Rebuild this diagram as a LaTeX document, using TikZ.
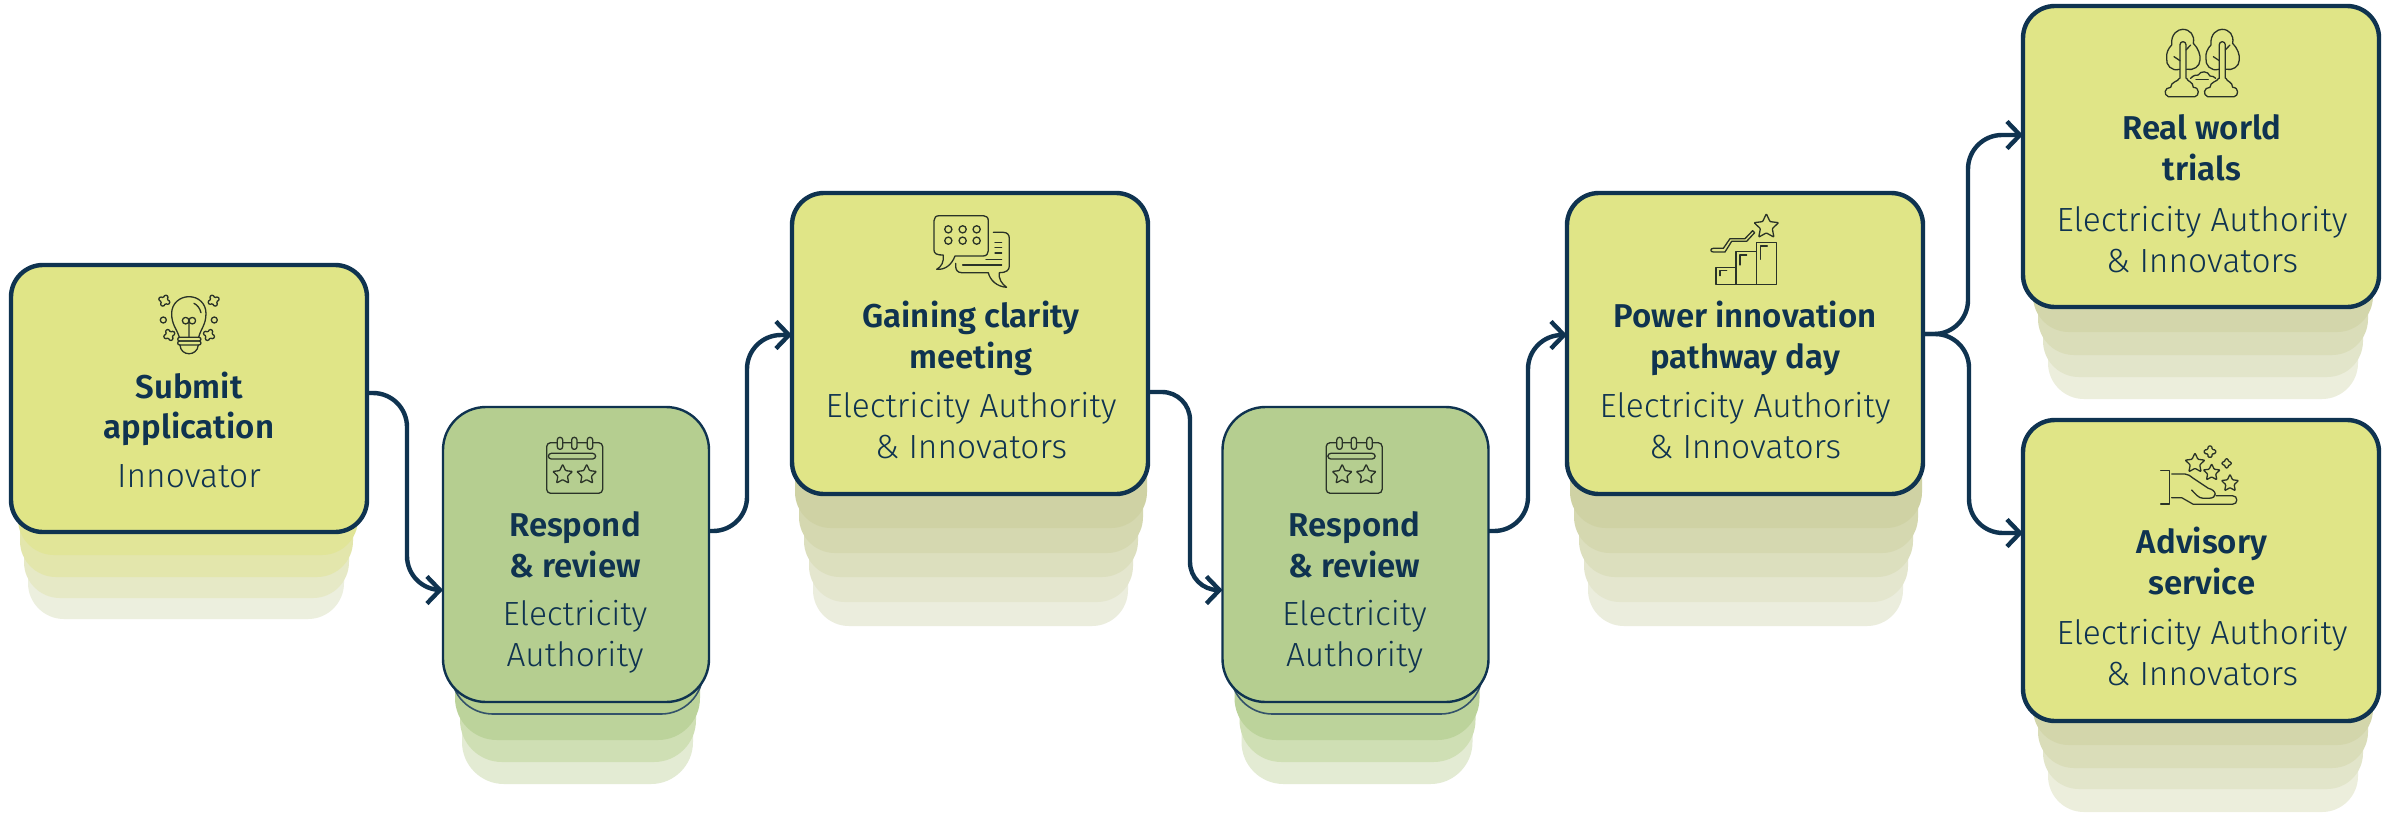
\documentclass[tikz,border=0pt]{standalone}
\usepackage{fontspec}
\usetikzlibrary{arrows.meta}
\newfontfamily\titlefont{Fira Sans SemiBold}
\newfontfamily\subfont{Fira Sans Light}
\definecolor{navy}{HTML}{0F3350}
\definecolor{ybox}{HTML}{E0E587}
\definecolor{gbox}{HTML}{B5CE90}
\definecolor{iconink}{HTML}{2A3328}
\tikzset{
 yboxst/.style={draw=navy,line width=4.4pt,fill=ybox,rounded corners=32pt,minimum width=356pt,minimum height=#1,inner sep=0pt,outer sep=0pt},
 gboxst/.style={draw=navy,line width=2.4pt,fill=gbox,rounded corners=43pt,minimum width=266pt,minimum height=295pt,inner sep=0pt,outer sep=0pt},
 titlest/.style={anchor=base,inner sep=0pt,text=navy,font=\titlefont\fontsize{33}{40}\selectfont},
 subst/.style={anchor=base,inner sep=0pt,text=navy,font=\subfont\fontsize{33.5}{40}\selectfont},
 link/.style={draw=navy,line width=4.4pt,rounded corners=#1,-{Straight Barb[length=13pt,width=27pt]}},
 link/.default=34pt,
 ic/.style={draw=iconink,line width=1.3pt,line join=round,line cap=round},
 sparkpic/.pic={\draw[ic,rounded corners=1.2pt] (-6,-17)--(6,-17)--(6,-6)--(17,-6)--(17,6)--(6,6)--(6,17)--(-6,17)--(-6,6)--(-17,6)--(-17,-6)--(-6,-6)--cycle;},
 starpic/.pic={\draw[ic,rounded corners=.8pt] (-90:31)--(-54:15)--(-18:31)--(18:15)--(54:31)--(90:15)--(126:31)--(162:15)--(198:31)--(234:15)--cycle;},
}
\newcommand\layerbox[5]{\definecolor{layerc}{HTML}{#5}\fill[layerc,rounded corners=#4] (#1,#3-150) rectangle (#2,#3);}
% stack under the five-layer boxes, in the coordinates of box 3
\newcommand\fivestack[1]{\begin{scope}[xshift=#1]
 \foreach \l/\r/\b/\c in {813/1128/626/EBEDDD,809/1133/602/E4E6CE,804/1138/577/DCDFBE,799/1143/553/D5D8B0,795/1147/528/CFD2A4}
  {\layerbox{\l}{\r}{\b}{36pt}{\c}}
\end{scope}}
\newcommand\calicon{%
 \draw[ic,rounded corners=4pt] (380,128) rectangle (548,280);
 \draw[ic,rounded corners=3pt] (385,160) rectangle (527,177);
 \foreach \x in {420,463,510}{\filldraw[ic,fill=gbox,rounded corners=2.5pt] (\x-8,112) rectangle (\x+8,148);}
 \pic at (428,224) {starpic};
 \pic at (500,224) {starpic};
}
\newcommand\treeicon{%
 \draw[ic] (838,208) .. controls (815,215) and (797,195) .. (800,175) .. controls (798,160) and (805,145) .. (815,135) .. controls (812,100) and (835,88) .. (848,88) .. controls (870,88) and (885,105) .. (880,130) .. controls (895,145) and (902,165) .. (900,180) .. controls (900,200) and (880,212) .. (860,208);
 \draw[ic,rounded corners=3pt] (840,235)--(840,125)--(858,125)--(858,235);
 \draw[ic] (822,170)--(840,182) (858,150)--(872,135);
 \draw[ic] (838,235) .. controls (835,245) and (812,245) .. (812,262) .. controls (793,262) and (790,285) .. (805,290) -- (885,290) .. controls (898,288) and (900,262) .. (880,262) .. controls (880,245) and (862,245) .. (860,235);
}
\begin{document}
\begin{tikzpicture}[x=1pt,y=-1pt]
\useasboundingbox (0,0) rectangle (2392,812);
\fill[white] (0,0) rectangle (2392,812);
% stacks
\foreach \l/\r/\b/\c in {28/344/619/ECEFDE,24/349/598/E6E9C6,20/353/577/E3E6AC,18/358/555/E1E598}
 {\layerbox{\l}{\r}{\b}{36pt}{\c}}
\foreach \dx in {0,779.5}{\begin{scope}[xshift=\dx]
 \foreach \l/\r/\b/\c in {462/693/784/E3EBD3,460/696/762/CFDFB4,455/700/740/BCD39B}
  {\layerbox{\l}{\r}{\b}{42pt}{\c}}
 \filldraw[draw=navy!85,line width=1.6pt,fill=gbox,rounded corners=42pt] (451,560) rectangle (703,714);
\end{scope}}
\fivestack{0}
\fivestack{775}
\foreach \l/\r/\b/\c in {2048/2358/399/ECEEDC,2043/2363/377/E2E5CA,2038/2368/355/DADDB9,2033/2373/332/D3D6AB}
 {\layerbox{\l}{\r}{\b}{36pt}{\c}}
\foreach \l/\r/\b/\c in {2048/2358/812/ECEEDC,2043/2363/789/E2E5CA,2038/2368/768/DADDB9,2033/2373/745/D3D6AB}
 {\layerbox{\l}{\r}{\b}{36pt}{\c}}
% boxes
\node[yboxst=267pt] (b1) at (189,398.5) {};
\node[gboxst] (b2) at (576,554.5) {};
\node[yboxst=301pt] (b3) at (970,343.5) {};
\node[gboxst] (b4) at (1355.5,554.5) {};
\node[yboxst=301pt] (b5) at (1745,343.5) {};
\node[yboxst=301pt] (b6) at (2201,156.5) {};
\node[yboxst=301pt] (b7) at (2201,570.5) {};
% connectors
\draw[link] ([yshift=5.5pt]b1.east) -- (407,393) -- (407,590) -- ([yshift=-35.5pt]b2.west);
\draw[link] ([yshift=23.5pt]b2.east) -- (747,531) -- (747,335) -- ([yshift=8.5pt]b3.west);
\draw[link=28pt] ([yshift=-48.5pt]b3.east) -- (1190,392) -- (1190,590) -- ([yshift=-35.5pt]b4.west);
\draw[link] ([yshift=23.5pt]b4.east) -- (1528,531) -- (1528,335) -- ([yshift=8.5pt]b5.west);
\draw[link] ([yshift=9.5pt]b5.east) -- (1968,334) -- (1968,135) -- ([yshift=21.5pt]b6.west);
\draw[link] ([yshift=9.5pt]b5.east) -- (1969,334) -- (1969,533) -- ([yshift=37.5pt]b7.west);
% texts
\node[titlest] (t1a) at (189,398) {Submit};
\node[titlest] (t1b) at (189,438) {application};
\node[subst] (t1c) at (189,487) {Innovator};
\foreach \n/\cx in {2/575,4/1354.5}{
 \node[titlest] (t\n a) at (\cx,536) {Respond};
 \node[titlest] (t\n b) at (\cx,577) {\& review};
 \node[subst] (t\n c) at (\cx,625) {Electricity};
 \node[subst] (t\n d) at (\cx,666) {Authority};
}
\node[titlest] (t3a) at (971,327) {Gaining clarity};
\node[titlest] (t3b) at (971,368) {meeting};
\node[subst] (t3c) at (971,417) {Electricity Authority};
\node[subst] (t3d) at (971,458) {\& Innovators};
\node[titlest] (t5a) at (1745,327) {Power innovation};
\node[titlest] (t5b) at (1745,368) {pathway day};
\node[subst] (t5c) at (1745,417) {Electricity Authority};
\node[subst] (t5d) at (1745,458) {\& Innovators};
\node[titlest] (t6a) at (2202,139) {Real world};
\node[titlest] (t6b) at (2202,180) {trials};
\node[subst] (t6c) at (2202,231) {Electricity Authority};
\node[subst] (t6d) at (2202,272) {\& Innovators};
\node[titlest] (t7a) at (2202,553) {Advisory};
\node[titlest] (t7b) at (2202,594) {service};
\node[subst] (t7c) at (2202,644) {Electricity Authority};
\node[subst] (t7d) at (2202,685) {\& Innovators};
% bulb icon
\begin{scope}[shift={(0,250)},x=.3333pt,y=-.3333pt]
 \draw[ic] (538,262) .. controls (530,235) and (515,225) .. (515,190) .. controls (515,160) and (540,140) .. (567,140) .. controls (595,140) and (618,160) .. (618,190) .. controls (618,225) and (603,235) .. (596,262);
 \draw[ic,rounded corners=2pt] (533,262) rectangle (603,273);
 \draw[ic,rounded corners=2pt] (533,273) rectangle (603,285);
 \draw[ic] (540,285) .. controls (542,320) and (592,320) .. (595,285);
 \draw[ic] (557,212) circle (3.3pt) (577,212) circle (3.3pt) (567,222)--(567,262);
 \draw[ic] (582,160) .. controls (592,165) and (600,175) .. (603,188);
 \draw[ic] (490,210) circle (3pt) (643,210) circle (3pt);
 \pic[rotate=-25] at (493,152) {sparkpic};
 \pic[rotate=25] at (641,152) {sparkpic};
 \pic[rotate=25] at (508,255) {sparkpic};
 \pic[rotate=-25] at (627,255) {sparkpic};
\end{scope}
% calendar icons
\begin{scope}[shift={(420,400)},x=.3333pt,y=-.3333pt]\calicon\end{scope}
\begin{scope}[shift={(1199.5,400)},x=.3333pt,y=-.3333pt]\calicon\end{scope}
% chat icon
\begin{scope}[shift={(780,180)},x=.3333pt,y=-.3333pt]
 \draw[ic] (490,225) .. controls (492,245) and (485,260) .. (470,268) .. controls (495,270) and (515,255) .. (525,228) -- (610,228) .. controls (620,228) and (625,220) .. (625,212) -- (625,122) .. controls (625,112) and (618,107) .. (610,107) -- (478,107) .. controls (468,107) and (462,113) .. (462,122) -- (462,210) .. controls (462,220) and (470,226) .. (490,225);
 \foreach \x in {505,548,590}\foreach \y in {148,182}{\draw[ic] (\x,\y) circle (3.6pt);}
 \draw[ic] (640,157) -- (670,157) .. controls (682,157) and (688,165) .. (688,175) -- (688,258) .. controls (688,270) and (680,278) .. (658,278) .. controls (655,295) and (665,312) .. (680,322) .. controls (650,320) and (630,300) .. (625,278) -- (545,278) .. controls (533,278) and (527,270) .. (527,258) -- (527,250);
 \draw[ic] (645,187)--(665,187) (645,203)--(665,203) (645,219)--(665,219) (618,238)--(665,238) (548,255)--(665,255);
\end{scope}
% steps icon
\begin{scope}[shift={(1550,180)},x=.3333pt,y=-.3333pt]
 \draw[ic] (498,262) rectangle (558,314) (558,215) rectangle (620,314) (620,188) rectangle (680,314);
 \draw[ic] (510,287)--(510,272)--(530,272) (570,255)--(570,225)--(590,225) (632,238)--(632,198)--(652,198);
 \draw[ic] (490,205)--(520,205)--(540,176)--(585,176)--(608,152)--(614,158)--(590,184)--(545,184)--(525,216)--(490,216) .. controls (480,216) and (480,205) .. (490,205);
 \pic[scale=1.25] at (649,140) {starpic};
\end{scope}
% trees icon
\begin{scope}[shift={(1900,0)},x=.3333pt,y=-.3333pt]
 \treeicon
 \begin{scope}[xshift=39.3pt]\treeicon\end{scope}
 \draw[ic] (872,235) .. controls (880,225) and (890,225) .. (895,225) .. controls (900,212) and (925,212) .. (930,228) .. controls (938,228) and (942,230) .. (947,235);
 \draw[ic] (888,238)--(925,238);
\end{scope}
% hand icon
\begin{scope}[shift={(1900,400)},x=.3333pt,y=-.3333pt]
 \draw[ic] (782,212)--(808,212)--(808,312)--(782,312);
 \draw[ic] (815,222)--(855,222) .. controls (865,222) and (870,228) .. (880,235) -- (925,265) .. controls (950,270) and (955,295) .. (925,295) -- (910,295) .. controls (895,295) and (885,280) .. (875,270);
 \draw[ic] (815,293)--(845,293)--(880,313)--(997,313) .. controls (1015,313) and (1015,287) .. (997,287)--(948,287);
 \pic at (885,190) {starpic};
 \pic[scale=.85] at (935,218) {starpic};
 \pic[scale=.87] at (990,250) {starpic};
 \pic at (930,155) {sparkpic};
 \pic[scale=.8] at (980,190) {sparkpic};
\end{scope}
\end{tikzpicture}
\end{document}
